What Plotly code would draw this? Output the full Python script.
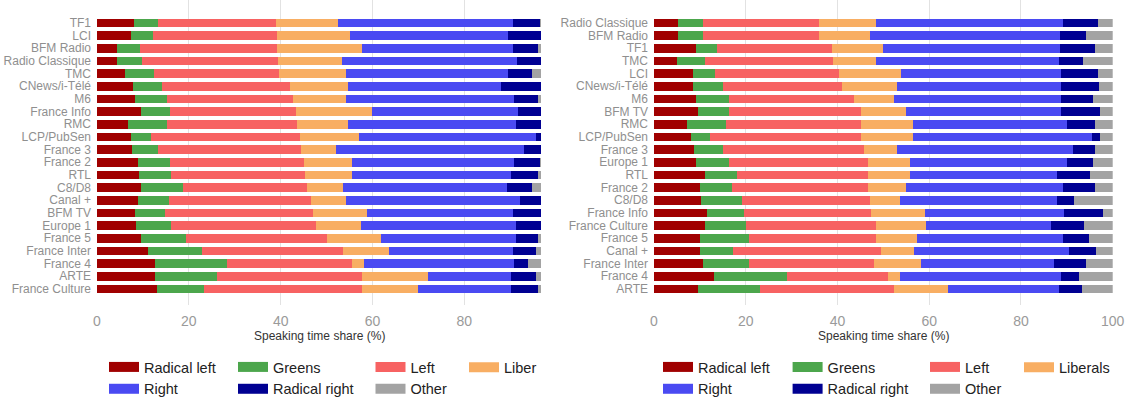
import plotly.graph_objects as go

# ---------------- data ----------------
parties = ["Radical left", "Greens", "Left", "Liberals", "Right", "Radical right", "Other"]
legend_names_left = ["Radical left", "Greens", "Left", "Liber", "Right", "Radical right", "Other"]
colors = ["#a00000", "#4ca64c", "#f76262", "#f8ae63", "#4a4af2", "#000092", "#a3a3a3"]

left_channels = ["TF1", "LCI", "BFM Radio", "Radio Classique", "TMC", "CNews/i-Télé", "M6",
                 "France Info", "RMC", "LCP/PubSen", "France 3", "France 2", "RTL", "C8/D8",
                 "Canal +", "BFM TV", "Europe 1", "France 5", "France Inter", "France 4",
                 "ARTE", "France Culture"]
left_radical_left = [8.0, 7.3, 4.4, 4.4, 6.0, 7.9, 8.2, 9.5, 6.7, 7.3, 7.6, 8.9, 9.2, 9.5, 8.9, 8.2, 8.6, 9.5, 11.1, 12.7, 12.7, 13.0]
left_greens       = [5.3, 5.0, 5.0, 5.4, 6.5, 6.3, 7.1, 6.5, 8.6, 4.5, 5.6, 7.0, 7.0, 9.2, 6.7, 6.7, 7.6, 9.8, 11.8, 15.7, 13.4, 10.4]
left_left         = [25.7, 26.9, 29.8, 29.7, 27.2, 27.8, 27.3, 27.3, 28.3, 32.4, 31.3, 29.2, 29.2, 27.1, 31.1, 32.1, 31.4, 30.8, 30.7, 27.2, 31.6, 34.3]
left_liberals     = [13.4, 16.0, 18.6, 13.8, 14.5, 12.6, 11.6, 16.7, 11.0, 12.8, 7.5, 10.5, 10.2, 7.8, 7.5, 11.7, 9.8, 11.8, 10.1, 2.5, 14.3, 12.2]
left_right        = [38.1, 34.4, 32.7, 38.2, 35.4, 33.4, 36.6, 31.7, 36.6, 38.6, 40.9, 35.2, 34.6, 35.7, 37.9, 31.8, 33.8, 29.3, 26.8, 32.7, 18.2, 20.3]
left_radical_right= [6.0, 7.1, 5.6, 5.2, 5.1, 8.7, 5.3, 5.0, 5.5, 1.1, 3.8, 5.7, 5.9, 5.4, 4.6, 6.2, 5.5, 4.9, 5.1, 3.1, 5.4, 5.9]
left_other        = [0.2, 0.0, 0.6, 0.0, 2.0, 0.0, 0.6, 0.0, 0.0, 0.0, 0.0, 0.2, 0.6, 2.0, 0.0, 0.0, 0.0, 0.6, 1.1, 2.8, 1.1, 0.6]

right_channels = ["Radio Classique", "BFM Radio", "TF1", "TMC", "LCI", "CNews/i-Télé", "M6",
                  "BFM TV", "RMC", "LCP/PubSen", "France 3", "Europe 1", "RTL", "France 2",
                  "C8/D8", "France Info", "France Culture", "France 5", "Canal +",
                  "France Inter", "France 4", "ARTE"]
right_radical_left = [5.3, 5.3, 9.1, 5.0, 8.4, 8.4, 9.1, 9.7, 7.2, 8.1, 8.8, 9.1, 11.2, 10.0, 10.3, 11.5, 11.2, 10.0, 10.0, 10.7, 13.1, 9.7]
right_greens       = [5.4, 5.4, 4.6, 6.2, 4.8, 6.6, 7.2, 6.6, 8.5, 4.1, 6.2, 7.2, 7.0, 6.9, 8.8, 8.1, 8.8, 10.7, 7.2, 10.0, 16.0, 13.5]
right_left         = [25.2, 25.2, 25.1, 27.9, 27.2, 26.0, 27.3, 28.8, 29.4, 32.9, 30.8, 30.4, 28.5, 29.8, 27.9, 27.7, 28.5, 27.8, 32.3, 27.2, 22.0, 29.1]
right_liberals     = [12.6, 11.1, 11.1, 9.4, 13.5, 11.9, 8.7, 9.8, 11.3, 11.3, 7.1, 9.1, 9.1, 8.2, 6.6, 11.7, 10.8, 8.9, 7.2, 10.4, 2.5, 11.9]
right_right        = [40.6, 41.5, 38.6, 39.7, 34.9, 35.9, 36.5, 33.9, 33.7, 39.0, 38.4, 34.3, 32.0, 34.2, 34.2, 30.4, 27.3, 31.7, 33.7, 28.9, 35.2, 24.0]
right_radical_right= [7.6, 5.7, 7.6, 5.3, 7.9, 8.2, 6.9, 8.5, 6.0, 1.9, 4.8, 5.6, 7.3, 7.0, 3.8, 8.5, 7.2, 5.7, 6.0, 7.0, 3.8, 5.0]
right_other        = [3.3, 5.8, 3.9, 6.5, 3.3, 3.0, 4.3, 2.7, 3.9, 2.7, 3.9, 4.3, 4.9, 3.9, 8.4, 2.1, 6.2, 5.2, 3.6, 5.8, 7.4, 6.8]

x_title = "Speaking time share (%)"
left_ticks = [0, 20, 40, 60, 80]
right_ticks = [0, 20, 40, 60, 80, 100]

left_series = [left_radical_left, left_greens, left_left, left_liberals,
               left_right, left_radical_right, left_other]
right_series = [right_radical_left, right_greens, right_left, right_liberals,
                right_right, right_radical_right, right_other]

# ---------------- figure ----------------
W, H = 1126, 405
FONT = "Liberation Sans, Arial, Helvetica, sans-serif"

fig = go.Figure()

for vals, name, col in zip(left_series, parties, colors):
    fig.add_trace(go.Bar(x=vals, y=left_channels, orientation="h", name=name,
                         marker=dict(color=col, line=dict(width=0)),
                         showlegend=False, xaxis="x", yaxis="y"))
for vals, name, col in zip(right_series, parties, colors):
    fig.add_trace(go.Bar(x=vals, y=right_channels, orientation="h", name=name,
                         marker=dict(color=col, line=dict(width=0)),
                         showlegend=False, xaxis="x2", yaxis="y2"))

# legends: 4 columns per panel, each a separate legend
col_of = [0, 1, 2, 3, 0, 1, 2]
left_cols_px = [104, 233, 370.5, 464]
right_cols_px = [658, 787.6, 925, 1019]

legend_layout = {}
for side, (names, cols_px, xa, ya) in enumerate([
        (legend_names_left, left_cols_px, "x", "y"),
        (parties, right_cols_px, "x2", "y2")]):
    for i, (name, col) in enumerate(zip(names, colors)):
        lid = side * 4 + col_of[i] + 1
        key = "legend" if lid == 1 else f"legend{lid}"
        fig.add_trace(go.Scatter(x=[None], y=[None], mode="lines", name=name,
                                 line=dict(color=col, width=10),
                                 legend=key, showlegend=True,
                                 xaxis=xa, yaxis=ya, hoverinfo="skip"))
    for c in range(4):
        lid = side * 4 + c + 1
        key = "legend" if lid == 1 else f"legend{lid}"
        legend_layout[key] = dict(
            x=cols_px[c] / W, xanchor="left", y=1 - 356.5 / H, yanchor="top",
            orientation="v", bgcolor="rgba(0,0,0,0)", borderwidth=0,
            font=dict(family=FONT, size=14.5, color="#222222"),
            traceorder="normal")

axis_common = dict(showgrid=True, gridcolor="#e2e2e2", gridwidth=1,
                   zeroline=False, showline=False, ticks="",
                   tickfont=dict(family=FONT, size=14, color="#9a9a9a"),
                   ticklabelstandoff=6,
                   automargin=False, fixedrange=True)
yaxis_common = dict(type="category", showgrid=False, zeroline=False, showline=False,
                    ticks="", tickfont=dict(family=FONT, size=12, color="#8f8f8f"),
                    automargin=False, ticklabelstandoff=5, fixedrange=True)

y_dom = [1 - 310 / H, 1]
y_rng = [22.3, -1.81]

fig.update_layout(
    width=W, height=H, barmode="stack", bargap=0.33,
    margin=dict(l=0, r=0, t=0, b=0),
    paper_bgcolor="white", plot_bgcolor="white",
    font=dict(family=FONT),
    xaxis=dict(domain=[97 / W, 541 / W], range=[0, 96.7], tickvals=left_ticks,
               anchor="y", **axis_common),
    yaxis=dict(domain=y_dom, range=y_rng, categoryorder="array",
               categoryarray=left_channels, tickmode="array",
               tickvals=left_channels, ticktext=left_channels,
               anchor="x", **yaxis_common),
    xaxis2=dict(domain=[654 / W, 1112.7 / W], range=[0, 100], tickvals=right_ticks,
                anchor="y2", **axis_common),
    yaxis2=dict(domain=y_dom, range=y_rng, categoryorder="array",
                categoryarray=right_channels, tickmode="array",
                tickvals=right_channels, ticktext=right_channels,
                anchor="x2", **yaxis_common),
    **legend_layout,
)

for x0, x1 in [(97, 541), (654, 1112.7)]:
    fig.add_annotation(text=x_title, xref="paper", yref="paper",
                       x=(x0 + x1) / 2 / W, y=1 - 341 / H, xanchor="center",
                       yanchor="middle", showarrow=False,
                       font=dict(family=FONT, size=12, color="#333333"))

fig.write_html("out.html")
